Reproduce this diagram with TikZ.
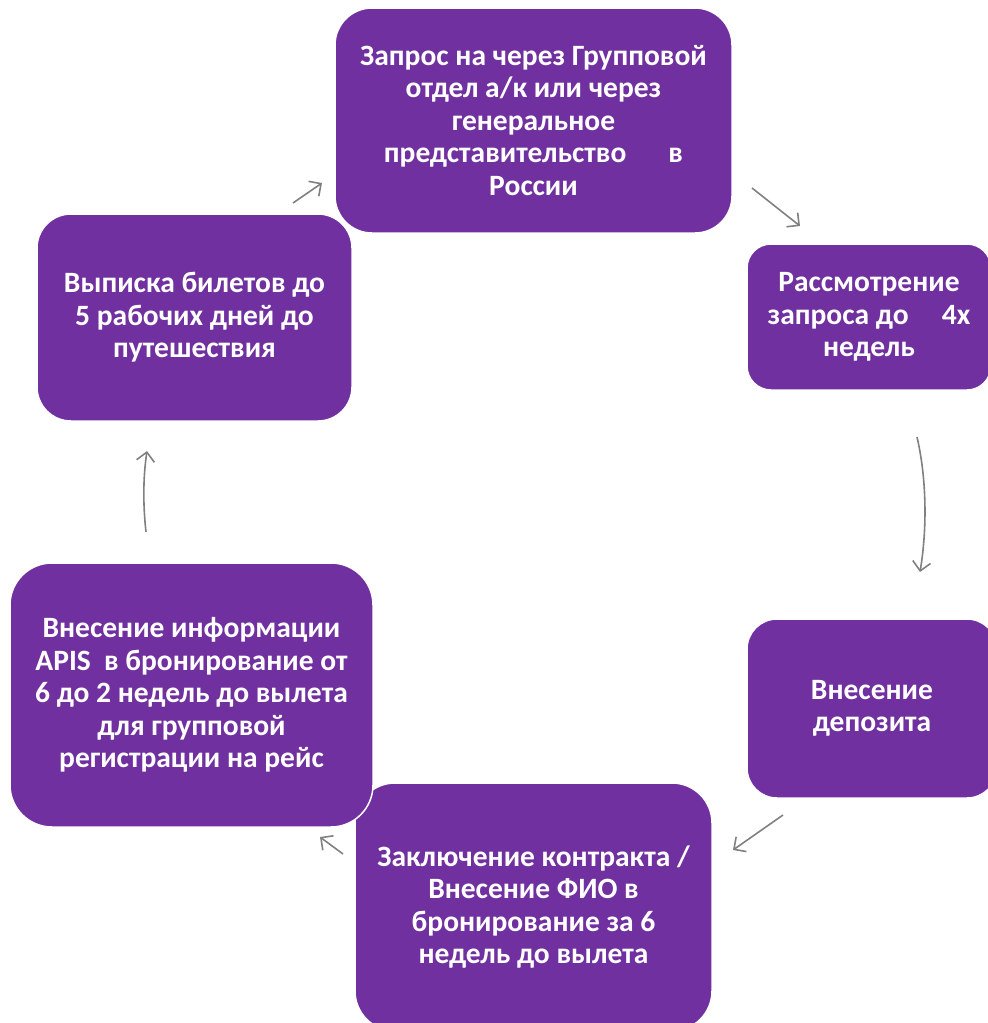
\documentclass[tikz,border=0pt]{standalone}
\usepackage{fontspec}
\setmainfont{Carlito}
\usetikzlibrary{arrows.meta}
\definecolor{boxpurple}{HTML}{7030A0}
\definecolor{arrowgray}{HTML}{808080}
\tikzset{
  stepbox/.style={rectangle, fill=boxpurple, draw=white, line width=1.5pt,
    text=white, font=\bfseries\fontsize{29.5}{32.5}\selectfont, align=center, inner sep=0pt},
  cyclearrow/.style={draw=arrowgray, line width=1.6pt,
    -{Straight Barb[length=9pt,width=18pt,line width=1.6pt]}}
}
\begin{document}
\begin{tikzpicture}[x=1pt,y=-1pt]
\useasboundingbox (0,0) rectangle (988,1023);
% box 1 (top)
\node[stepbox, rounded corners=37pt, minimum width=397pt, minimum height=225pt] (b1) at (533.5,120.5)
  {Запрос на через Групповой\\отдел а/к или через\\генеральное\\представительство\hspace{1.2em} в\\России};
% box 2
\node[stepbox, rounded corners=24pt, minimum width=244pt, minimum height=146pt] (b2) at (869,317)
  {Рассмотрение\\запроса до\hspace{0.9em} 4х\\недель};
% box 3
\node[stepbox, rounded corners=30pt, minimum width=250pt, minimum height=179pt] (b3) at (872,708.5)
  {Внесение\\депозита};
% box 4
\node[stepbox, rounded corners=40pt, minimum width=357pt, minimum height=248pt] (b4) at (533.5,907)
  {Заключение контракта /\\Внесение ФИО в\\бронирование за 6\\недель до вылета};
% box 5
\node[stepbox, rounded corners=42pt, minimum width=363pt, minimum height=264pt] (b5) at (191.5,695)
  {Внесение информации\\APIS\ \ в бронирование от\\6 до 2 недель до вылета\\для групповой\\регистрации на рейс};
% box 6
\node[stepbox, rounded corners=34pt, minimum width=315pt, minimum height=207pt] (b6) at (194.5,317.5)
  {Выписка билетов до\\5 рабочих дней до\\путешествия};
% arrow end points
\coordinate (a1s) at (293,203);
\coordinate (a1e) at (322,183);
\coordinate (a2s) at (752,188);
\coordinate (a2e) at (800,226);
\coordinate (a3s) at (917,437);
\coordinate (a3e) at (920,572);
\coordinate (a4s) at (783,815);
\coordinate (a4e) at (733,850);
\coordinate (a5s) at (343,854);
\coordinate (a5e) at (320,837);
\coordinate (a6s) at (146,532);
\coordinate (a6e) at (147,451);
\draw[cyclearrow] (a1s) -- (a1e);
\draw[cyclearrow] (a2s) -- (a2e);
\draw[cyclearrow] (a3s) .. controls (927,480) and (927,530) .. (a3e);
\draw[cyclearrow] (a4s) -- (a4e);
\draw[cyclearrow] (a5s) -- (a5e);
\draw[cyclearrow] (a6s) .. controls (143,505) and (143,478) .. (a6e);
\end{tikzpicture}
\end{document}
